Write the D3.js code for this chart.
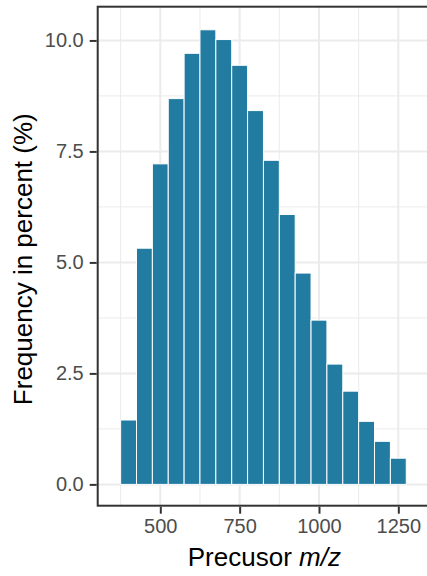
<!DOCTYPE html>
<html>
<head>
    <title>precursor histogram</title>
    <style>
        body {
            margin: 0;
            padding: 0;
            background: #ffffff;
            font-family: "Liberation Sans", Arial, sans-serif;
        }
        svg {
            display: block;
        }
        .grid-major {
            stroke: #ebebeb;
            stroke-width: 2;
        }
        .grid-minor {
            stroke: #ebebeb;
            stroke-width: 1;
        }
        .axis path {
            display: none;
        }
        .axis line {
            stroke: #333333;
            stroke-width: 2;
        }
        .axis text {
            fill: #4d4d4d;
            font-size: 20px;
            font-family: "Liberation Sans", Arial, sans-serif;
        }
        .axis-title {
            fill: #000000;
            font-size: 26px;
        }
    </style>
</head>
<body>
    <svg id="chart" width="427" height="576"></svg>

    <script src="https://d3js.org/d3.v7.min.js"></script>
    <script>
        // histogram bins (left edge, m/z) and frequency in percent
        const binStart = [375, 425, 475, 525, 575, 625, 675, 725, 775, 825,
                          875, 925, 975, 1025, 1075, 1125, 1175, 1225];
        const binWidth = 50;
        const freq = [1.45, 5.32, 7.22, 8.69, 9.71, 10.24, 10.02, 9.44, 8.42, 7.30,
                      6.08, 4.76, 3.70, 2.71, 2.10, 1.42, 0.97, 0.59];

        const xMajor = [500, 750, 1000, 1250];
        const xMinor = [375, 625, 875, 1125, 1375];
        const yMajor = [0, 2.5, 5, 7.5, 10];
        const yMinor = [1.25, 3.75, 6.25, 8.75];

        const svg = d3.select('#chart');

        // panel box (right edge falls just outside the picture)
        const panel = { left: 97.7, right: 431, top: 6.7, bottom: 505.7 };

        const x = d3.scaleLinear()
            .domain([302.7, 1353])
            .range([panel.left, panel.right]);
        const y = d3.scaleLinear()
            .domain([-0.48, 10.76])
            .range([panel.bottom, panel.top]);

        const g = svg.append('g');

        // grid lines
        g.selectAll('.gx-minor').data(xMinor).enter().append('line')
            .attr('class', 'grid-minor')
            .attr('x1', d => x(d)).attr('x2', d => x(d))
            .attr('y1', panel.top).attr('y2', panel.bottom);
        g.selectAll('.gy-minor').data(yMinor).enter().append('line')
            .attr('class', 'grid-minor')
            .attr('x1', panel.left).attr('x2', panel.right)
            .attr('y1', d => y(d)).attr('y2', d => y(d));
        g.selectAll('.gx-major').data(xMajor).enter().append('line')
            .attr('class', 'grid-major')
            .attr('x1', d => x(d)).attr('x2', d => x(d))
            .attr('y1', panel.top).attr('y2', panel.bottom);
        g.selectAll('.gy-major').data(yMajor).enter().append('line')
            .attr('class', 'grid-major')
            .attr('x1', panel.left).attr('x2', panel.right)
            .attr('y1', d => y(d)).attr('y2', d => y(d));

        // bars
        g.selectAll('.bar').data(freq).enter().append('rect')
            .attr('class', 'bar')
            .attr('x', (d, i) => x(binStart[i]))
            .attr('width', (d, i) => x(binStart[i] + binWidth) - x(binStart[i]))
            .attr('y', d => y(d))
            .attr('height', d => y(0) - y(d))
            .attr('fill', '#227ba0')
            .attr('stroke', '#ffffff')
            .attr('stroke-width', 1);

        // panel border
        g.append('rect')
            .attr('x', panel.left)
            .attr('y', panel.top)
            .attr('width', panel.right - panel.left)
            .attr('height', panel.bottom - panel.top)
            .attr('fill', 'none')
            .attr('stroke', '#333333')
            .attr('stroke-width', 2);

        // axes
        svg.append('g')
            .attr('class', 'axis')
            .attr('transform', `translate(${panel.left - 1},0)`)
            .call(d3.axisLeft(y).tickValues(yMajor).tickFormat(d3.format('.1f'))
                .tickSize(7).tickPadding(6));

        svg.append('g')
            .attr('class', 'axis')
            .attr('transform', `translate(0,${panel.bottom + 1})`)
            .call(d3.axisBottom(x).tickValues(xMajor).tickFormat(d3.format('d'))
                .tickSize(7).tickPadding(5));

        // axis titles
        const xt = svg.append('text')
            .attr('class', 'axis-title')
            .attr('x', (panel.left + panel.right) / 2)
            .attr('y', 565.5)
            .attr('text-anchor', 'middle');
        xt.append('tspan').text('Precusor ');
        xt.append('tspan').attr('font-style', 'italic').text('m/z');

        svg.append('text')
            .attr('class', 'axis-title')
            .attr('transform', `translate(32,${(panel.top + panel.bottom) / 2 + 3}) rotate(-90)`)
            .attr('text-anchor', 'middle')
            .text('Frequency in percent (%)');
    </script>
</body>
</html>
